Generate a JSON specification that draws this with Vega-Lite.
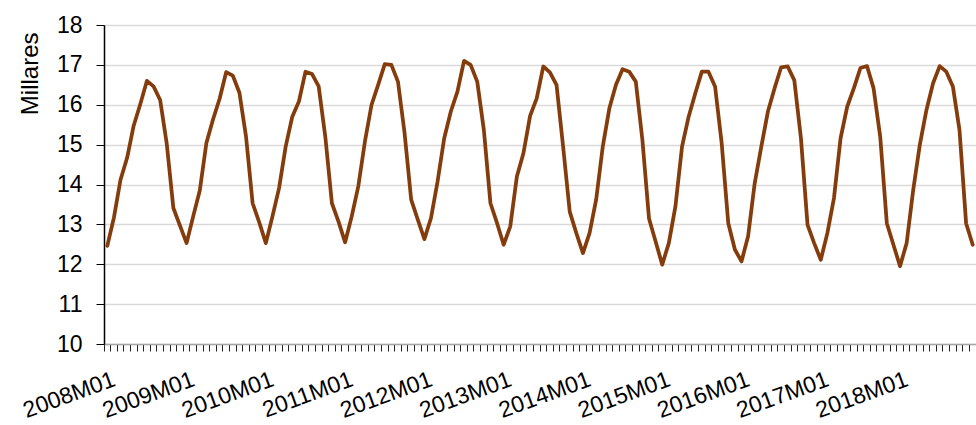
{
  "$schema": "https://vega.github.io/schema/vega-lite/v6.json",
  "width": 872,
  "height": 319,
  "autosize": {"type": "none"},
  "padding": {"left": 104, "top": 25, "right": 0, "bottom": 81},
  "background": "white",
  "config": {"view": {"stroke": null}, "font": "Liberation Sans"},
  "datasets": {
    "serie": [
      {"periodo": "2008M01", "valor": 12.46}, {"periodo": "2008M02", "valor": 13.17}, {"periodo": "2008M03", "valor": 14.12}, {"periodo": "2008M04", "valor": 14.67}, {"periodo": "2008M05", "valor": 15.48}, {"periodo": "2008M06", "valor": 16.02}, {"periodo": "2008M07", "valor": 16.6}, {"periodo": "2008M08", "valor": 16.46}, {"periodo": "2008M09", "valor": 16.12}, {"periodo": "2008M10", "valor": 15.02}, {"periodo": "2008M11", "valor": 13.41}, {"periodo": "2008M12", "valor": 12.97},
      {"periodo": "2009M01", "valor": 12.53}, {"periodo": "2009M02", "valor": 13.2}, {"periodo": "2009M03", "valor": 13.85}, {"periodo": "2009M04", "valor": 15.04}, {"periodo": "2009M05", "valor": 15.63}, {"periodo": "2009M06", "valor": 16.15}, {"periodo": "2009M07", "valor": 16.82}, {"periodo": "2009M08", "valor": 16.73}, {"periodo": "2009M09", "valor": 16.3}, {"periodo": "2009M10", "valor": 15.2}, {"periodo": "2009M11", "valor": 13.53}, {"periodo": "2009M12", "valor": 13.05},
      {"periodo": "2010M01", "valor": 12.53}, {"periodo": "2010M02", "valor": 13.2}, {"periodo": "2010M03", "valor": 13.91}, {"periodo": "2010M04", "valor": 14.95}, {"periodo": "2010M05", "valor": 15.7}, {"periodo": "2010M06", "valor": 16.08}, {"periodo": "2010M07", "valor": 16.83}, {"periodo": "2010M08", "valor": 16.77}, {"periodo": "2010M09", "valor": 16.46}, {"periodo": "2010M10", "valor": 15.2}, {"periodo": "2010M11", "valor": 13.53}, {"periodo": "2010M12", "valor": 13.07},
      {"periodo": "2011M01", "valor": 12.55}, {"periodo": "2011M02", "valor": 13.2}, {"periodo": "2011M03", "valor": 13.96}, {"periodo": "2011M04", "valor": 15.08}, {"periodo": "2011M05", "valor": 16.0}, {"periodo": "2011M06", "valor": 16.5}, {"periodo": "2011M07", "valor": 17.02}, {"periodo": "2011M08", "valor": 17.0}, {"periodo": "2011M09", "valor": 16.58}, {"periodo": "2011M10", "valor": 15.29}, {"periodo": "2011M11", "valor": 13.62}, {"periodo": "2011M12", "valor": 13.12},
      {"periodo": "2012M01", "valor": 12.63}, {"periodo": "2012M02", "valor": 13.16}, {"periodo": "2012M03", "valor": 14.08}, {"periodo": "2012M04", "valor": 15.16}, {"periodo": "2012M05", "valor": 15.83}, {"periodo": "2012M06", "valor": 16.33}, {"periodo": "2012M07", "valor": 17.1}, {"periodo": "2012M08", "valor": 17.0}, {"periodo": "2012M09", "valor": 16.58}, {"periodo": "2012M10", "valor": 15.37}, {"periodo": "2012M11", "valor": 13.53}, {"periodo": "2012M12", "valor": 13.03},
      {"periodo": "2013M01", "valor": 12.49}, {"periodo": "2013M02", "valor": 12.95}, {"periodo": "2013M03", "valor": 14.2}, {"periodo": "2013M04", "valor": 14.79}, {"periodo": "2013M05", "valor": 15.72}, {"periodo": "2013M06", "valor": 16.16}, {"periodo": "2013M07", "valor": 16.96}, {"periodo": "2013M08", "valor": 16.81}, {"periodo": "2013M09", "valor": 16.5}, {"periodo": "2013M10", "valor": 14.95}, {"periodo": "2013M11", "valor": 13.32}, {"periodo": "2013M12", "valor": 12.78},
      {"periodo": "2014M01", "valor": 12.28}, {"periodo": "2014M02", "valor": 12.78}, {"periodo": "2014M03", "valor": 13.62}, {"periodo": "2014M04", "valor": 14.95}, {"periodo": "2014M05", "valor": 15.91}, {"periodo": "2014M06", "valor": 16.5}, {"periodo": "2014M07", "valor": 16.89}, {"periodo": "2014M08", "valor": 16.83}, {"periodo": "2014M09", "valor": 16.58}, {"periodo": "2014M10", "valor": 15.12}, {"periodo": "2014M11", "valor": 13.15}, {"periodo": "2014M12", "valor": 12.57},
      {"periodo": "2015M01", "valor": 11.99}, {"periodo": "2015M02", "valor": 12.53}, {"periodo": "2015M03", "valor": 13.45}, {"periodo": "2015M04", "valor": 14.95}, {"periodo": "2015M05", "valor": 15.7}, {"periodo": "2015M06", "valor": 16.28}, {"periodo": "2015M07", "valor": 16.83}, {"periodo": "2015M08", "valor": 16.83}, {"periodo": "2015M09", "valor": 16.46}, {"periodo": "2015M10", "valor": 15.04}, {"periodo": "2015M11", "valor": 13.03}, {"periodo": "2015M12", "valor": 12.37},
      {"periodo": "2016M01", "valor": 12.07}, {"periodo": "2016M02", "valor": 12.7}, {"periodo": "2016M03", "valor": 14.03}, {"periodo": "2016M04", "valor": 14.95}, {"periodo": "2016M05", "valor": 15.83}, {"periodo": "2016M06", "valor": 16.41}, {"periodo": "2016M07", "valor": 16.94}, {"periodo": "2016M08", "valor": 16.96}, {"periodo": "2016M09", "valor": 16.61}, {"periodo": "2016M10", "valor": 15.16}, {"periodo": "2016M11", "valor": 12.99}, {"periodo": "2016M12", "valor": 12.53},
      {"periodo": "2017M01", "valor": 12.11}, {"periodo": "2017M02", "valor": 12.78}, {"periodo": "2017M03", "valor": 13.66}, {"periodo": "2017M04", "valor": 15.16}, {"periodo": "2017M05", "valor": 15.95}, {"periodo": "2017M06", "valor": 16.41}, {"periodo": "2017M07", "valor": 16.92}, {"periodo": "2017M08", "valor": 16.97}, {"periodo": "2017M09", "valor": 16.41}, {"periodo": "2017M10", "valor": 15.2}, {"periodo": "2017M11", "valor": 13.03}, {"periodo": "2017M12", "valor": 12.49},
      {"periodo": "2018M01", "valor": 11.95}, {"periodo": "2018M02", "valor": 12.53}, {"periodo": "2018M03", "valor": 13.87}, {"periodo": "2018M04", "valor": 15.0}, {"periodo": "2018M05", "valor": 15.87}, {"periodo": "2018M06", "valor": 16.54}, {"periodo": "2018M07", "valor": 16.97}, {"periodo": "2018M08", "valor": 16.83}, {"periodo": "2018M09", "valor": 16.46}, {"periodo": "2018M10", "valor": 15.37}, {"periodo": "2018M11", "valor": 13.03}, {"periodo": "2018M12", "valor": 12.49}
    ]
  },
  "data": {"name": "serie"},
  "mark": {"type": "line", "color": "#843C0C", "strokeWidth": 3.75, "strokeJoin": "round", "strokeCap": "round"},
  "encoding": {
    "x": {
      "field": "periodo",
      "type": "ordinal",
      "scale": {"type": "band", "paddingInner": 0, "paddingOuter": 0},
      "axis": {
        "title": null,
        "bandPosition": 0,
        "labelOffset": 3.3,
        "labelExpr": "slice(datum.value, 4) == 'M01' ? datum.value : ''",
        "labelAngle": -20,
        "labelAlign": "right",
        "labelBaseline": "top",
        "labelPadding": 17,
        "labelFontSize": 23,
        "labelColor": "#000000",
        "labelOverlap": false,
        "labelBound": false,
        "labelFlush": false,
        "domainColor": "#a6a6a6",
        "domainWidth": 1.5,
        "tickColor": "#222222",
        "tickSize": 7,
        "tickWidth": 1,
        "grid": false
      }
    },
    "y": {
      "field": "valor",
      "type": "quantitative",
      "scale": {"domain": [10, 18], "nice": false, "zero": false},
      "axis": {
        "values": [10, 11, 12, 13, 14, 15, 16, 17, 18],
        "title": "Millares",
        "titleFontSize": 24,
        "titleFontWeight": "normal",
        "titleColor": "#000000",
        "titleAngle": -90,
        "titleAlign": "right",
        "titleBaseline": "middle",
        "titleX": -74,
        "titleY": 7,
        "labelFontSize": 23,
        "labelColor": "#000000",
        "labelPadding": 14,
        "domainColor": "#000000",
        "domainWidth": 1.5,
        "tickColor": "#000000",
        "tickSize": 8,
        "gridColor": "#d9d9d9",
        "gridWidth": 1.5
      }
    }
  }
}
